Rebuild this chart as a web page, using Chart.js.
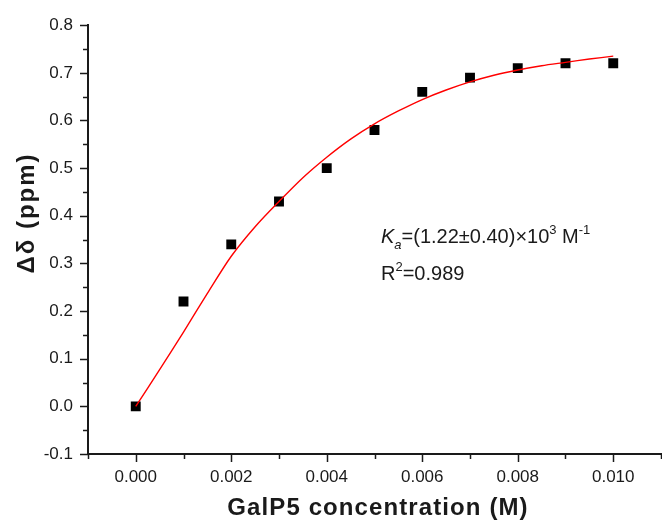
<!DOCTYPE html>
<html>
<head>
<meta charset="utf-8">
<script src="https://cdn.jsdelivr.net/npm/chart.js@4.4.1/dist/chart.umd.min.js"></script>
<style>
  html, body { margin: 0; padding: 0; background: #fff; overflow: hidden; }
  #wrap { width: 668px; height: 520px; }
</style>
</head>
<body>
<div id="wrap"><canvas id="titration"></canvas></div>
<script>
/* --- Dati --- */
const concentration = [0, 0.001, 0.002, 0.003, 0.004, 0.005, 0.006, 0.007, 0.008, 0.009, 0.010];
const deltaShift = [0, 0.22, 0.34, 0.43, 0.50, 0.58, 0.66, 0.69, 0.71, 0.72, 0.72];

// fitted curve
const fitConcentration = [0, 0.0005, 0.001, 0.0015, 0.002, 0.0025, 0.003, 0.0035, 0.004, 0.0045, 0.005,
                          0.0055, 0.006, 0.0065, 0.007, 0.0075, 0.008, 0.0085, 0.009, 0.0095, 0.010];
const fitShift = [0, 0.077, 0.156, 0.237, 0.315, 0.377, 0.43, 0.48, 0.523, 0.561, 0.593,
                  0.620, 0.644, 0.664, 0.681, 0.695, 0.706, 0.715, 0.722, 0.729, 0.735];

const xMajorTicks = [0, 0.002, 0.004, 0.006, 0.008, 0.010];
const xMinorTicks = [-0.001, 0.001, 0.003, 0.005, 0.007, 0.009, 0.011];
const yMajorTicks = [-0.1, 0, 0.1, 0.2, 0.3, 0.4, 0.5, 0.6, 0.7, 0.8];
const yMinorTicks = [-0.05, 0.05, 0.15, 0.25, 0.35, 0.45, 0.55, 0.65, 0.75];

const xTitle = 'GalP5 concentration (M)';
const yTitle = 'Δδ (ppm)';

const FONT = '"Liberation Sans", Arial, sans-serif';
const INK = '#1a1a1a';

/* --- Plugin: tacche, titoli, annotazione --- */
const axisDecor = {
    id: 'axisDecor',
    afterDraw(chart) {
        const { ctx, scales: { x, y }, chartArea } = chart;
        ctx.save();
        ctx.strokeStyle = INK;
        ctx.lineWidth = 1.5;
        const vTick = (v, len) => {
            const px = Math.round(x.getPixelForValue(v)) + 0.5;
            if (px < chartArea.left - 1 || px > chartArea.right + 1) return;
            ctx.beginPath(); ctx.moveTo(px, chartArea.bottom); ctx.lineTo(px, chartArea.bottom + len); ctx.stroke();
        };
        const hTick = (v, len) => {
            const py = Math.round(y.getPixelForValue(v)) + 0.5;
            ctx.beginPath(); ctx.moveTo(chartArea.left, py); ctx.lineTo(chartArea.left - len, py); ctx.stroke();
        };
        xMajorTicks.forEach(v => vTick(v, 8));
        xMinorTicks.forEach(v => vTick(v, 5));
        yMajorTicks.forEach(v => hTick(v, 8));
        yMinorTicks.forEach(v => hTick(v, 5));

        // titoli assi
        ctx.fillStyle = INK;
        ctx.font = `bold 24px ${FONT}`;
        ctx.textAlign = 'center';
        ctx.textBaseline = 'alphabetic';
        ctx.letterSpacing = '1.1px';
        ctx.fillText(xTitle, 378, 515);
        ctx.save();
        ctx.translate(34, 213);
        ctx.rotate(-Math.PI / 2);
        ctx.letterSpacing = '2px';
        ctx.fillText(yTitle, 0, 0);
        ctx.restore();
        ctx.letterSpacing = '0px';

        // annotazione Ka / R2
        const parts = (x0, base, list) => {
            let cx = x0;
            list.forEach(([txt, font, dy]) => {
                ctx.font = font;
                ctx.textAlign = 'left';
                ctx.fillText(txt, cx, base + dy);
                cx += ctx.measureText(txt).width;
            });
        };
        parts(381, 243, [
            ['K', `italic 20px ${FONT}`, 0],
            ['a', `italic 13px ${FONT}`, 6],
            ['=(1.22±0.40)×10', `20px ${FONT}`, 0],
            ['3', `13px ${FONT}`, -9],
            [' M', `20px ${FONT}`, 0],
            ['-1', `13px ${FONT}`, -9]
        ]);
        parts(381, 280, [
            ['R', `20px ${FONT}`, 0],
            ['2', `13px ${FONT}`, -9],
            ['=0.989', `20px ${FONT}`, 0]
        ]);
        ctx.restore();
    }
};

/* --- Grafico --- */
const ctx = document.getElementById('titration').getContext('2d');
new Chart(ctx, {
    type: 'scatter',
    data: {
        datasets: [
            {
                label: 'fit',
                data: fitConcentration.map((c, i) => ({ x: c, y: fitShift[i] })),
                showLine: true,
                borderColor: '#ff0000',
                borderWidth: 1.4,
                pointRadius: 0,
                tension: 0.3,
                fill: false
            },
            {
                label: 'Δδ',
                data: concentration.map((c, i) => ({ x: c, y: deltaShift[i] })),
                pointStyle: 'rect',
                pointRadius: 7,
                pointHoverRadius: 7,
                backgroundColor: '#000',
                borderColor: '#000',
                borderWidth: 0
            }
        ]
    },
    options: {
        responsive: true,
        maintainAspectRatio: false,
        animation: false,
        layout: { padding: { top: 24, left: 0, right: 0, bottom: 0 } },
        plugins: { legend: { display: false }, tooltip: { enabled: false } },
        scales: {
            x: {
                type: 'linear',
                min: -0.001,
                max: 0.011,
                afterBuildTicks: s => { s.ticks = xMajorTicks.map(v => ({ value: v })); },
                afterFit: s => { s.height = 66; },
                grid: { display: false, drawTicks: false },
                border: { display: true, color: INK, width: 2 },
                ticks: {
                    padding: 13,
                    color: INK,
                    font: { family: FONT, size: 17 },
                    callback: v => Number(v).toFixed(3)
                }
            },
            y: {
                type: 'linear',
                min: -0.1,
                max: 0.8,
                afterBuildTicks: s => { s.ticks = yMajorTicks.map(v => ({ value: v })); },
                afterFit: s => { s.width = 88; },
                grid: { display: false, drawTicks: false },
                border: { display: true, color: INK, width: 2 },
                ticks: {
                    padding: 15,
                    color: INK,
                    font: { family: FONT, size: 17 },
                    callback: v => Number(v).toFixed(1)
                }
            }
        }
    },
    plugins: [axisDecor]
});
</script>
</body>
</html>
